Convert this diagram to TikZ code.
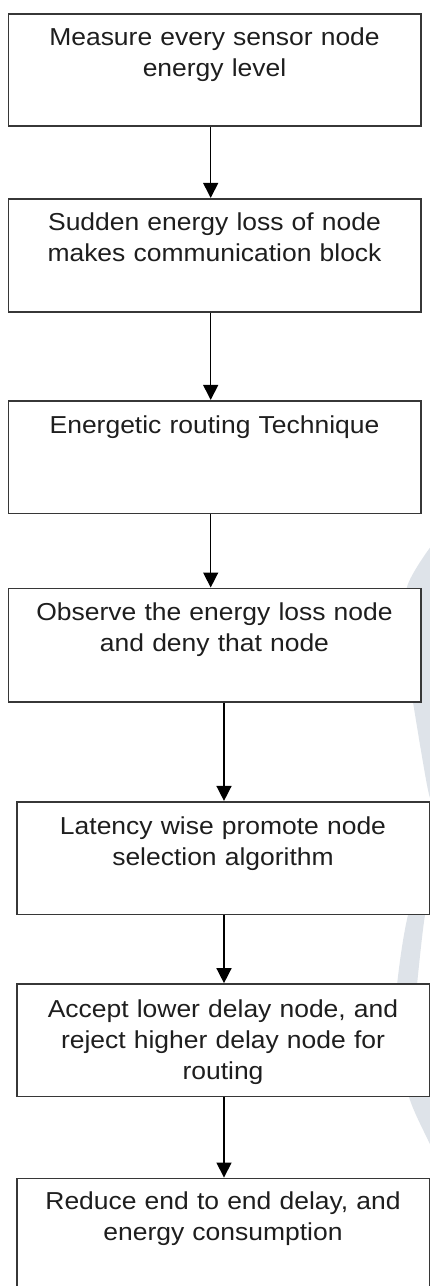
\documentclass[tikz,border=0pt]{standalone}
\usepackage{fontspec}
\setmainfont{Liberation Sans}[FakeStretch=1.08]
\usetikzlibrary{arrows.meta}
\definecolor{wmgray}{RGB}{222,227,233}
\definecolor{boxline}{RGB}{55,55,55}
\definecolor{txtcol}{RGB}{30,30,30}
\tikzset{
  stepbox/.style={draw=boxline, line width=1.6pt, fill=white, rectangle, inner sep=0pt, minimum width=412.4pt},
  steptext/.style={anchor=base, align=center, text width=400pt, inner sep=0pt, text=txtcol, font=\fontsize{24.5}{31}\selectfont},
  arr/.style={draw=black, line width=1.5pt, -{Triangle[width=15pt,length=15pt]}},
  wm/.style={fill=wmgray, draw=none}
}
\begin{document}
\begin{tikzpicture}[x=1pt,y=-1pt]
\useasboundingbox (0,0) rectangle (430,1286);
\clip (0,0) rectangle (430,1286);
\fill[white] (0,0) rectangle (430,1286);
% watermark
\fill[wm] plot[smooth] coordinates {(429,549) (407,587) (404,640) (413,702) (428,790) (436,812)} -- (436,540) -- cycle;
\fill[wm] plot[smooth] coordinates {(434,830) (408,915) (397,985) (394,1040) (410,1100) (428,1140) (436,1156)} -- (436,1090) -- plot[smooth] coordinates {(417,985) (425,915) (438,860)} -- cycle;
% boxes
\node[stepbox, minimum height=112pt] (b1) at (214.5,70) {};
\node[stepbox, minimum height=113pt] (b2) at (214.5,255.2) {};
\node[stepbox, minimum height=112.6pt] (b3) at (214.5,457) {};
\node[stepbox, minimum height=113.4pt] (b4) at (214.5,645) {};
\node[stepbox, minimum height=112.6pt, minimum width=412.6pt] (b5) at (223,858) {};
\node[stepbox, minimum height=112.7pt, minimum width=412.6pt] (b6) at (223,1040.3) {};
\node[stepbox, minimum height=112.7pt, minimum width=412.6pt] (b7) at (223,1234.7) {};
% texts
\node[steptext] (t1) at ([yshift=-32.7pt]b1.north) {Measure every sensor node\\energy level};
\node[steptext] (t2) at ([yshift=-33pt]b2.north) {Sudden energy loss of node\\makes communication block};
\node[steptext] (t3) at ([yshift=-34pt]b3.north) {Energetic routing Technique};
\node[steptext] (t4) at ([yshift=-33.4pt]b4.north) {Observe the energy loss node\\and deny that node};
\node[steptext] (t5) at ([yshift=-33.3pt]b5.north) {Latency wise promote node\\selection algorithm};
\node[steptext] (t6) at ([yshift=-34pt]b6.north) {Accept lower delay node, and\\reject higher delay node for\\routing};
\node[steptext] (t7) at ([yshift=-32.4pt]b7.north) {Reduce end to end delay, and\\energy consumption};
% arrows
\coordinate (ax1) at (210.7,0);
\coordinate (ax2) at (224,0);
\draw[arr] (b1.south -| ax1) -- (b2.north -| ax1);
\draw[arr] (b2.south -| ax1) -- (b3.north -| ax1);
\draw[arr] (b3.south -| ax1) -- (b4.north -| ax1);
\draw[arr] (b4.south -| ax2) -- (b5.north -| ax2);
\draw[arr] (b5.south -| ax2) -- (b6.north -| ax2);
\draw[arr] (b6.south -| ax2) -- (b7.north -| ax2);
\end{tikzpicture}
\end{document}
